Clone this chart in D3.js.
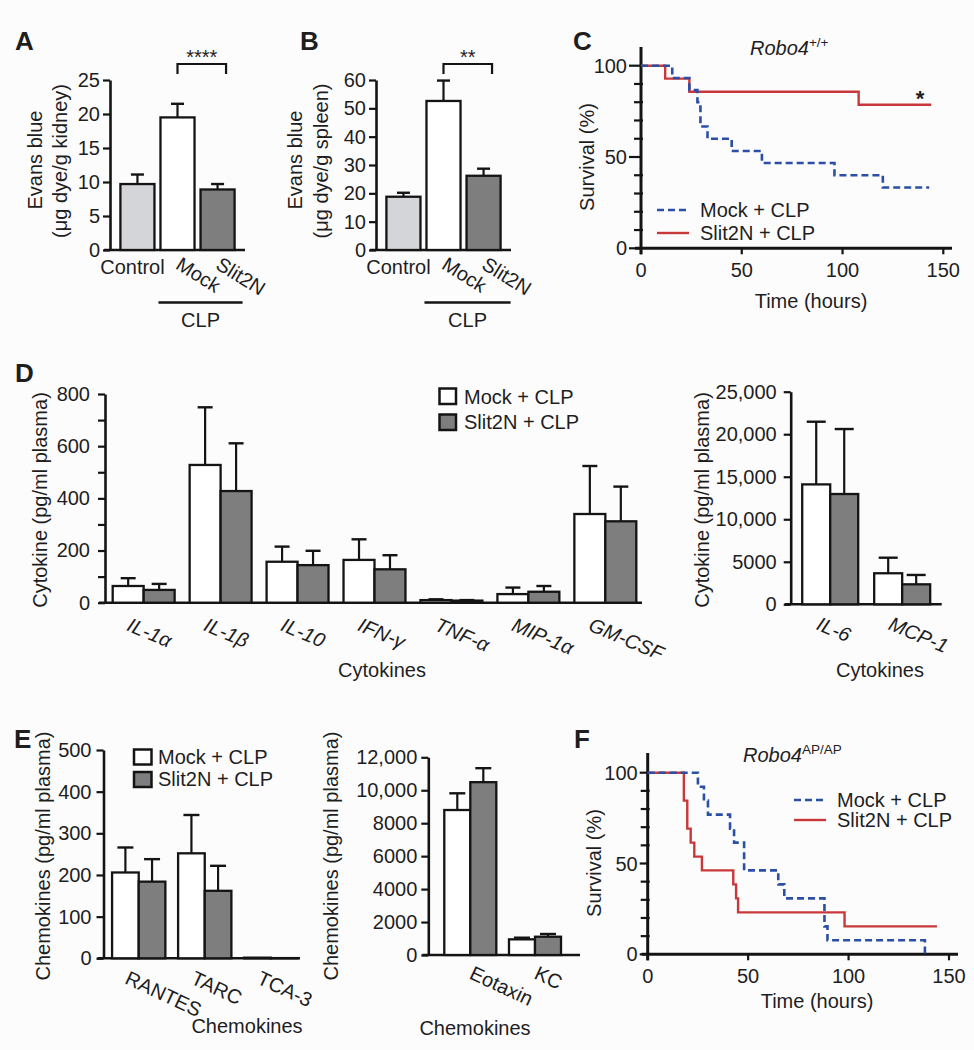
<!DOCTYPE html>
<html><head><meta charset="utf-8">
<script src="https://cdn.jsdelivr.net/npm/d3@7"></script>
<style>
body{margin:0;background:#fdfcfd}
text{font-family:'Liberation Sans',Arial,Helvetica,sans-serif;fill:#1e1e1e}
</style>
</head><body><script>
// ---------------- DATA ----------------
const evansGroups = ["Control", "Mock", "Slit2N"];
const kidneyMeans = [9.7, 19.5, 8.9];
const kidneySEM   = [1.4, 2.0, 0.8];
const kidneyTicks = [0, 5, 10, 15, 20, 25];
const spleenMeans = [18.8, 52.6, 26.2];
const spleenSEM   = [1.4, 7.2, 2.5];
const spleenTicks = [0, 10, 20, 30, 40, 50, 60];

const cytoLowNames   = ["IL-1α", "IL-1β", "IL-10", "IFN-γ", "TNF-α", "MIP-1α", "GM-CSF"];
const cytoLowMock    = [64, 528, 157, 164, 10, 33, 340];
const cytoLowMockSEM = [30, 221, 58, 79, 3, 25, 184];
const cytoLowSlit    = [49, 428, 144, 128, 8, 42, 312];
const cytoLowSlitSEM = [23, 183, 55, 54, 2, 22, 133];
const cytoLowTicks   = [0, 100, 200, 300, 400, 500, 600, 700, 800];

const cytoHighNames   = ["IL-6", "MCP-1"];
const cytoHighMock    = [14100, 3650];
const cytoHighMockSEM = [7370, 1830];
const cytoHighSlit    = [12970, 2350];
const cytoHighSlitSEM = [7640, 1100];
const cytoHighTicks   = [0, 5000, 10000, 15000, 20000, 25000];

const chemoLowNames   = ["RANTES", "TARC", "TCA-3"];
const chemoLowMock    = [206, 252, 1.5];
const chemoLowMockSEM = [60, 92, 0];
const chemoLowSlit    = [184, 162, 0.5];
const chemoLowSlitSEM = [54, 60, 0];
const chemoLowTicks   = [0, 100, 200, 300, 400, 500];

const chemoHighNames   = ["Eotaxin", "KC"];
const chemoHighMock    = [8800, 950];
const chemoHighMockSEM = [1015, 100];
const chemoHighSlit    = [10490, 1110];
const chemoHighSlitSEM = [850, 165];
const chemoHighTicks   = [0, 2000, 4000, 6000, 8000, 10000, 12000];

const survXTicks = [0, 50, 100, 150];
const survYLabels = [0, 50, 100];
// Panel C (Robo4 +/+)
const survCMockTime = [0, 15.5, 24, 28, 29.5, 33, 45, 60, 96, 120, 143];
const survCMockPct  = [100, 93.3, 86.7, 80, 66.7, 60, 53.3, 46.7, 40, 33.3, 33.3];
const survCSlitTime = [0, 12, 24, 108, 144];
const survCSlitPct  = [100, 92.9, 85.7, 78.6, 78.6];
// Panel F (Robo4 AP/AP)
const survFMockTime = [0, 25, 28, 30, 41, 43, 48, 65, 68, 88, 89.5, 138];
const survFMockPct  = [100, 92.3, 84.6, 76.9, 69.2, 61.5, 46.2, 38.5, 30.8, 15.4, 7.7, 0];
const survFSlitTime = [0, 18, 19.7, 21.4, 23.2, 27, 42.6, 44, 45, 98, 144];
const survFSlitPct  = [100, 84.6, 69.2, 61.5, 53.8, 46.2, 38.5, 30.8, 23.1, 15.4, 15.4];

// ---------------- STYLE ----------------
const FONT = "'Liberation Sans', Arial, Helvetica, sans-serif";
const INK = "#141414";
const C_LIGHT = "#d3d5d8", C_WHITE = "#ffffff", C_GRAY = "#7e7e7e";
const C_BLUE = "#2b4ea6", C_RED = "#c8383b";
const FS = 20;

const svg = d3.select("body").append("svg").attr("width", 974).attr("height", 1050);
svg.append("rect").attr("width", 974).attr("height", 1050).attr("fill", "#fdfcfd");

function txt(g, x, y, s, opts = {}) {
  const t = g.append("text").attr("x", x).attr("y", y).text(s)
    .attr("font-size", opts.size || FS).attr("font-family", FONT)
    .attr("text-anchor", opts.anchor || "start");
  if (opts.weight) t.attr("font-weight", opts.weight);
  if (opts.style) t.attr("font-style", opts.style);
  if (opts.dy) t.attr("dy", opts.dy);
  if (opts.rotate !== undefined) t.attr("transform", `rotate(${opts.rotate},${x},${y})`);
  return t;
}
function vlabel(g, cx, cy, s) {
  return txt(g, cx, cy, s, {anchor: "middle", dy: "0.35em", rotate: -90});
}
const bigFmt = d => d >= 10000 ? d3.format(",")(d) : String(d);

function barPanel(o) {
  const g = svg.append("g");
  const y = d3.scaleLinear().domain([0, o.max]).range([o.yBase, o.yTop]);
  const x = d3.scaleBand().domain(o.cats).range([o.xAxis, o.xEnd]).paddingInner(o.pi).paddingOuter(o.po);
  const xs = d3.scaleBand().domain(o.series.map(s => s.key)).range([0, x.bandwidth()]);
  g.append("line").attr("x1", o.xAxis - 6).attr("x2", o.lineEnd).attr("y1", o.yBase).attr("y2", o.yBase)
    .attr("stroke", INK).attr("stroke-width", 2.6);
  o.series.forEach(s => {
    o.cats.forEach((c, i) => {
      const bx = x(c) + xs(s.key), bw = xs.bandwidth(), cx = bx + bw / 2;
      const v = s.values[i], e = s.sem[i];
      if (e > 0) {
        g.append("line").attr("x1", cx).attr("x2", cx).attr("y1", y(v)).attr("y2", y(v + e))
          .attr("stroke", INK).attr("stroke-width", 2.2);
        g.append("line").attr("x1", cx - o.capW / 2).attr("x2", cx + o.capW / 2).attr("y1", y(v + e)).attr("y2", y(v + e))
          .attr("stroke", INK).attr("stroke-width", 2.4);
      }
      g.append("rect").attr("x", bx).attr("y", y(v)).attr("width", bw).attr("height", o.yBase - y(v))
        .attr("fill", s.fills ? s.fills[i] : s.fill).attr("stroke", INK).attr("stroke-width", 2.3);
    });
  });
  const ax = d3.axisLeft(y).tickValues(o.ticks).tickFormat(o.fmt || (d => d))
    .tickSize(7).tickPadding(o.pad).tickSizeOuter(0);
  const ag = g.append("g").attr("transform", `translate(${o.xAxis},0)`).call(ax);
  ag.select(".domain").attr("stroke", INK).attr("stroke-width", 2.6);
  ag.selectAll(".tick line").attr("stroke", INK).attr("stroke-width", 2.2);
  ag.selectAll(".tick text").attr("font-size", FS).attr("font-family", FONT).attr("fill", "#1e1e1e");
  return {g, x, xs, y};
}

// ---------------- PANEL A ----------------
{
  const p = barPanel({cats: evansGroups, series: [{key: "v", values: kidneyMeans, sem: kidneySEM, fills: [C_LIGHT, C_WHITE, C_GRAY]}],
    max: 25, yBase: 250, yTop: 80, xAxis: 110, xEnd: 245, lineEnd: 245, pi: 0.15, po: 0.26, ticks: kidneyTicks, pad: 3, capW: 13});
  const g = p.g, x = p.x, bw = x.bandwidth();
  txt(g, 15, 50, "A", {size: 26, weight: "bold"});
  vlabel(g, 35, 160, "Evans blue");
  vlabel(g, 60, 161, "(μg dye/g kidney)");
  txt(g, x("Control") + bw / 2 - 5, 274, "Control", {anchor: "middle"});
  ["Mock", "Slit2N"].forEach(c => txt(g, x(c) + bw / 2 - 3, 268, c, {rotate: 32}));
  const l = x("Mock") + bw / 2, r = x("Slit2N") + bw / 2 + 8.5;
  g.append("path").attr("d", `M${l},74V64H${r}V74`).attr("fill", "none").attr("stroke", INK).attr("stroke-width", 2.2);
  txt(g, (l + r) / 2, 64, "****", {anchor: "middle", size: 20});
  g.append("line").attr("x1", x("Mock") - 2).attr("x2", x("Slit2N") + bw + 8).attr("y1", 302.5).attr("y2", 302.5)
    .attr("stroke", INK).attr("stroke-width", 2.4);
  txt(g, (x("Mock") - 2 + x("Slit2N") + bw + 8) / 2, 327, "CLP", {anchor: "middle"});
}
// ---------------- PANEL B ----------------
{
  const p = barPanel({cats: evansGroups, series: [{key: "v", values: spleenMeans, sem: spleenSEM, fills: [C_LIGHT, C_WHITE, C_GRAY]}],
    max: 60, yBase: 250, yTop: 80, xAxis: 376, xEnd: 511, lineEnd: 511, pi: 0.15, po: 0.26, ticks: spleenTicks, pad: 3, capW: 13});
  const g = p.g, x = p.x, bw = x.bandwidth();
  txt(g, 300, 50, "B", {size: 26, weight: "bold"});
  vlabel(g, 295, 160, "Evans blue");
  vlabel(g, 321, 161, "(μg dye/g spleen)");
  txt(g, x("Control") + bw / 2 - 5, 274, "Control", {anchor: "middle"});
  ["Mock", "Slit2N"].forEach(c => txt(g, x(c) + bw / 2 - 3, 268, c, {rotate: 32}));
  const l = x("Mock") + bw / 2, r = x("Slit2N") + bw / 2 + 8.5;
  g.append("path").attr("d", `M${l},74V64H${r}V74`).attr("fill", "none").attr("stroke", INK).attr("stroke-width", 2.2);
  txt(g, (l + r) / 2, 64, "**", {anchor: "middle", size: 20});
  const a = x("Mock") - 2, b = x("Slit2N") + bw + 10;
  g.append("line").attr("x1", a).attr("x2", b).attr("y1", 302.5).attr("y2", 302.5).attr("stroke", INK).attr("stroke-width", 2.4);
  txt(g, (a + b) / 2, 327, "CLP", {anchor: "middle"});
}

// ---------------- SURVIVAL PANELS ----------------
function survPanel(o) {
  const g = svg.append("g");
  const x = d3.scaleLinear().domain([0, 150]).range([o.x0, o.x150]);
  const y = d3.scaleLinear().domain([0, 100]).range([o.y0, o.y100]);
  g.append("line").attr("x1", x(0)).attr("x2", x(0)).attr("y1", o.yAxisTop).attr("y2", y(0) + 6)
    .attr("stroke", INK).attr("stroke-width", 3);
  g.append("line").attr("x1", x(0) - 6).attr("x2", o.xAxisEnd).attr("y1", y(0)).attr("y2", y(0))
    .attr("stroke", INK).attr("stroke-width", 3);
  d3.range(0, 101, 10).forEach(v => {
    const major = survYLabels.includes(v);
    g.append("line").attr("x1", x(0) - (major ? o.majorLen : 7)).attr("x2", x(0) + (major ? 0 : 2))
      .attr("y1", y(v)).attr("y2", y(v)).attr("stroke", INK).attr("stroke-width", 2.2);
  });
  survYLabels.forEach(v => txt(g, x(0) - o.majorLen - 2, y(v), String(v), {anchor: "end", dy: "0.35em"}));
  survXTicks.forEach(t => {
    g.append("line").attr("x1", x(t)).attr("x2", x(t)).attr("y1", y(0)).attr("y2", y(0) + 6)
      .attr("stroke", INK).attr("stroke-width", 2.2);
    txt(g, x(t), y(0) + 28.5, String(t), {anchor: "middle"});
  });
  const line = d3.line().x(d => x(d[0])).y(d => y(d[1])).curve(d3.curveStepAfter);
  const mock = d3.zip(o.mockT, o.mockP), slit = d3.zip(o.slitT, o.slitP);
  g.append("path").attr("d", line(slit)).attr("fill", "none").attr("stroke", C_RED).attr("stroke-width", 2.4);
  g.append("path").attr("d", line(mock)).attr("fill", "none").attr("stroke", C_BLUE).attr("stroke-width", 2.6)
    .attr("stroke-dasharray", "7,4");
  return {g, x, y};
}
function survLegend(g, lx, ly1, ly2) {
  g.append("line").attr("x1", lx).attr("x2", lx + 32).attr("y1", ly1).attr("y2", ly1)
    .attr("stroke", C_BLUE).attr("stroke-width", 2.6).attr("stroke-dasharray", "7,4");
  g.append("line").attr("x1", lx).attr("x2", lx + 32).attr("y1", ly2).attr("y2", ly2)
    .attr("stroke", C_RED).attr("stroke-width", 2.4);
  txt(g, lx + 43, ly1, "Mock + CLP", {dy: "0.35em"});
  txt(g, lx + 43, ly2, "Slit2N + CLP", {dy: "0.35em"});
}
// Panel C
{
  const p = survPanel({x0: 641, x150: 943.3, y0: 248.3, y100: 65.7, yAxisTop: 47, xAxisEnd: 952, majorLen: 12,
    mockT: survCMockTime, mockP: survCMockPct, slitT: survCSlitTime, slitP: survCSlitPct});
  const g = p.g;
  txt(g, 573, 50, "C", {size: 26, weight: "bold"});
  const t = txt(g, 750, 55, "Robo4", {style: "italic", size: 20});
  t.append("tspan").attr("dy", -8).attr("font-size", 13.5).attr("font-style", "normal").text("+/+");
  txt(g, p.x(138.5), 106, "*", {anchor: "middle", size: 22, weight: "bold"});
  vlabel(g, 587, 157, "Survival (%)");
  txt(g, 811, 308, "Time (hours)", {anchor: "middle"});
  survLegend(g, 657, 210, 233);
}
// Panel F
{
  const p = survPanel({x0: 647.7, x150: 949, y0: 954.3, y100: 772.7, yAxisTop: 753, xAxisEnd: 958, majorLen: 8,
    mockT: survFMockTime, mockP: survFMockPct, slitT: survFSlitTime, slitP: survFSlitPct});
  const g = p.g;
  txt(g, 574, 748, "F", {size: 26, weight: "bold"});
  const t = txt(g, 743, 762, "Robo4", {style: "italic", size: 20});
  t.append("tspan").attr("dy", -8).attr("font-size", 13.5).attr("font-style", "normal").text("AP/AP");
  vlabel(g, 594, 863, "Survival (%)");
  txt(g, 817, 1008, "Time (hours)", {anchor: "middle"});
  survLegend(g, 794, 800, 820);
}

// ---------------- PANEL D ----------------
{
  const p = barPanel({cats: cytoLowNames,
    series: [{key: "mock", values: cytoLowMock, sem: cytoLowMockSEM, fill: C_WHITE},
             {key: "slit", values: cytoLowSlit, sem: cytoLowSlitSEM, fill: C_GRAY}],
    max: 800, yBase: 602.7, yTop: 394, xAxis: 105, xEnd: 644, lineEnd: 642, pi: 0.195, po: 0.1,
    ticks: cytoLowTicks, fmt: d => (d % 200 === 0 ? d : ""), pad: 8, capW: 15});
  const g = p.g, x = p.x, bw = x.bandwidth();
  txt(g, 15, 382, "D", {size: 26, weight: "bold"});
  vlabel(g, 40, 500, "Cytokine (pg/ml plasma)");
  cytoLowNames.forEach(c => txt(g, x(c) + bw / 2 - 18, 630, c, {rotate: 23, style: "italic"}));
  txt(g, 382, 677, "Cytokines", {anchor: "middle"});
  // legend
  g.append("rect").attr("x", 439.5).attr("y", 388.5).attr("width", 16.5).attr("height", 15.5)
    .attr("fill", C_WHITE).attr("stroke", INK).attr("stroke-width", 2.5);
  g.append("rect").attr("x", 439.5).attr("y", 414.5).attr("width", 16.5).attr("height", 15.5)
    .attr("fill", C_GRAY).attr("stroke", INK).attr("stroke-width", 2.5);
  txt(g, 464, 403.5, "Mock + CLP");
  txt(g, 464, 429, "Slit2N + CLP");
}
{
  const p = barPanel({cats: cytoHighNames,
    series: [{key: "mock", values: cytoHighMock, sem: cytoHighMockSEM, fill: C_WHITE},
             {key: "slit", values: cytoHighSlit, sem: cytoHighSlitSEM, fill: C_GRAY}],
    max: 25000, yBase: 604.3, yTop: 391.7, xAxis: 790.7, xEnd: 941.7, lineEnd: 941.7, pi: 0.222, po: 0.16,
    ticks: cytoHighTicks, fmt: bigFmt, pad: 7, capW: 19});
  const g = p.g, x = p.x, bw = x.bandwidth();
  vlabel(g, 702, 500, "Cytokine (pg/ml plasma)");
  cytoHighNames.forEach(c => txt(g, x(c) + bw / 2 - 15, 629, c, {rotate: 23, style: "italic"}));
  txt(g, 880, 677, "Cytokines", {anchor: "middle"});
}

// ---------------- PANEL E ----------------
{
  const p = barPanel({cats: chemoLowNames,
    series: [{key: "mock", values: chemoLowMock, sem: chemoLowMockSEM, fill: C_WHITE},
             {key: "slit", values: chemoLowSlit, sem: chemoLowSlitSEM, fill: C_GRAY}],
    max: 500, yBase: 958.3, yTop: 750, xAxis: 103.5, xEnd: 306, lineEnd: 300, pi: 0.193, po: 0.13,
    ticks: chemoLowTicks, pad: 5, capW: 16});
  const g = p.g, x = p.x, bw = x.bandwidth();
  txt(g, 14, 748, "E", {size: 26, weight: "bold"});
  vlabel(g, 43, 856, "Chemokines (pg/ml plasma)");
  chemoLowNames.forEach(c => txt(g, x(c) + bw / 2 - 15, 983, c, {rotate: 25}));
  txt(g, 247, 1033, "Chemokines", {anchor: "middle"});
  g.append("rect").attr("x", 134).attr("y", 749.5).attr("width", 17.5).attr("height", 15)
    .attr("fill", C_WHITE).attr("stroke", INK).attr("stroke-width", 2.5);
  g.append("rect").attr("x", 134).attr("y", 772).attr("width", 17.5).attr("height", 15)
    .attr("fill", C_GRAY).attr("stroke", INK).attr("stroke-width", 2.5);
  txt(g, 158, 764, "Mock + CLP");
  txt(g, 158, 786, "Slit2N + CLP");
}
{
  const p = barPanel({cats: chemoHighNames,
    series: [{key: "mock", values: chemoHighMock, sem: chemoHighMockSEM, fill: C_WHITE},
             {key: "slit", values: chemoHighSlit, sem: chemoHighSlitSEM, fill: C_GRAY}],
    max: 12000, yBase: 955, yTop: 757.3, xAxis: 428.3, xEnd: 577, lineEnd: 580, pi: 0.196, po: 0.247,
    ticks: chemoHighTicks, fmt: bigFmt, pad: 4, capW: 16});
  const g = p.g, x = p.x, bw = x.bandwidth();
  vlabel(g, 331, 856, "Chemokines (pg/ml plasma)");
  chemoHighNames.forEach(c => txt(g, x(c) + bw / 2 - 2, 978, c, {rotate: 25}));
  txt(g, 475, 1035, "Chemokines", {anchor: "middle"});
}
</script></body></html>
